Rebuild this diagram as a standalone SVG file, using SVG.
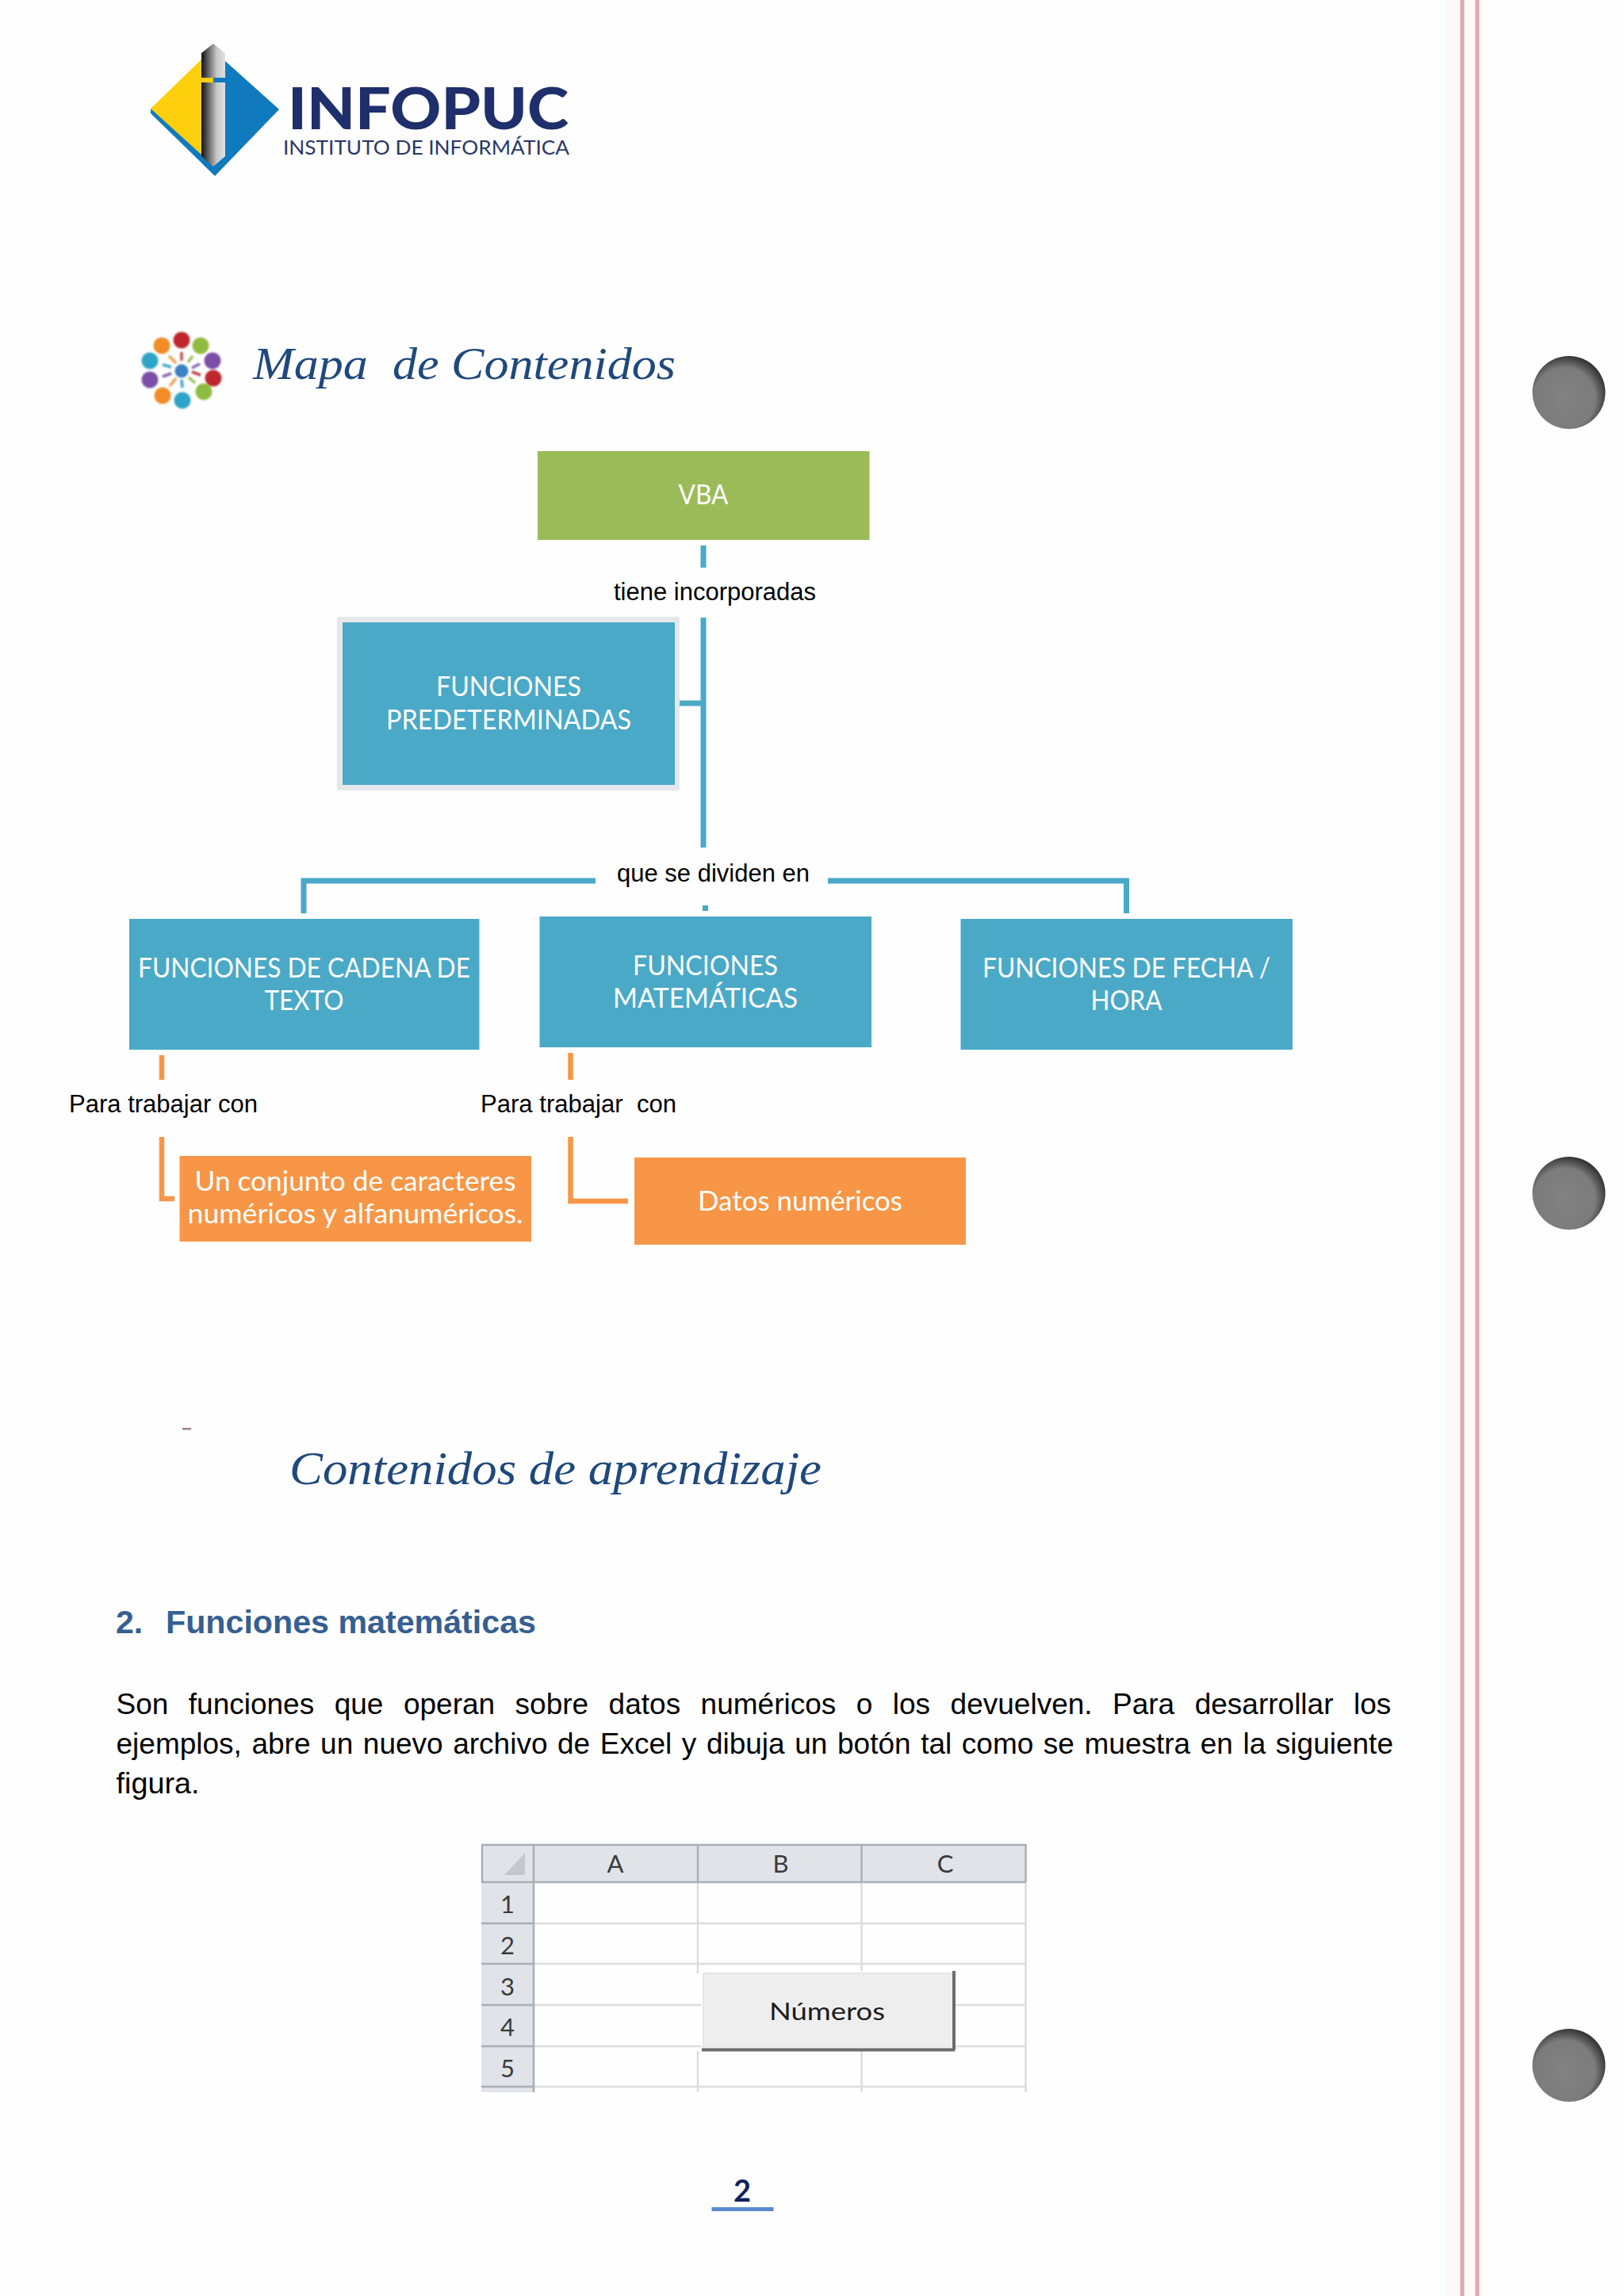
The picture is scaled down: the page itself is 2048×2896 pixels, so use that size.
<svg xmlns="http://www.w3.org/2000/svg" width="2048" height="2896" viewBox="0 0 2048 2896">
<style>
.box{font-family:Lato,"Liberation Sans",sans-serif;font-size:35px;fill:#fff;text-anchor:middle}
.lbl{font-family:"Liberation Sans",Arial,sans-serif;font-size:31px;fill:#000}
.title{font-family:"Liberation Serif",serif;font-style:italic;fill:#1f497d}
.body{font-family:"Liberation Sans",Arial,sans-serif;font-size:37px;fill:#000}
.cell{font-family:Lato,"Liberation Sans",sans-serif;font-size:31px;fill:#3a3a3a;text-anchor:middle}
.blue{fill:#4aa9c7}
.orange{fill:#f79646}
.cb{stroke:#4aa9c7;stroke-width:7;fill:none}
.co{stroke:#f79646;stroke-width:6.500;fill:none}
.grid{stroke:#dcdce0;stroke-width:2.5;fill:none}
.hdr{stroke:#a9aeb4;stroke-width:2.5;fill:none}
.ring{fill:url(#hole)}
.spk{stroke-width:3.6;fill:none}
</style>
<defs>
<linearGradient id="pen" x1="0" x2="1" y1="0" y2="0">
<stop offset="0" stop-color="#111"/><stop offset=".3" stop-color="#666"/><stop offset=".65" stop-color="#c8c8c8"/><stop offset="1" stop-color="#dfe1e3"/>
</linearGradient>
<radialGradient id="hole" cx=".44" cy=".58" r=".62">
<stop offset="0" stop-color="#828282"/><stop offset=".68" stop-color="#7c7c7c"/><stop offset=".84" stop-color="#505050"/><stop offset="1" stop-color="#262626"/>
</radialGradient>
<filter id="soft" x="-10%" y="-10%" width="120%" height="120%"><feGaussianBlur stdDeviation="0.8"/></filter>
</defs>
<rect width="2048" height="2896" fill="#fefefe"/>

<g id="margin">
<rect x="1810" y="0" width="20" height="2896" fill="#f9fefe"/>
<rect x="1824" y="0" width="10" height="2896" fill="#fff8fb"/>
<rect x="1834" y="0" width="36" height="2896" fill="#fffaf6"/>
<rect x="1841.500" y="0" width="5" height="2896" fill="#d9a9b5"/>
<rect x="1860.500" y="0" width="5" height="2896" fill="#e8a3b4"/>
</g>
<g id="holes">
<circle class="ring" cx="1978.500" cy="495" r="46"/>
<circle class="ring" cx="1978.500" cy="1505" r="46"/>
<circle class="ring" cx="1978.500" cy="2605" r="46"/>
</g>

<g id="logo">
<polygon points="190,143 271,222 352,138 284,77 284,190 190,137" fill="#0f7abd"/>
<polygon points="190,137 254,75 254,195" fill="#fdcf0c"/>
<polygon points="254,67 269,55 284,67 284,197 269,210 254,197" fill="url(#pen)"/>
<rect x="254" y="98" width="15" height="6" fill="#fdcf0c"/>
<rect x="269" y="98" width="15" height="6" fill="#0f7abd"/>
<text x="363" y="163" font-family="Lato,'Liberation Sans',sans-serif" font-weight="900" font-size="72" fill="#1e2f6b" textLength="354" lengthAdjust="spacingAndGlyphs">INFOPUC</text>
<text x="357" y="195" font-family="Lato,'Liberation Sans',sans-serif" font-size="25" fill="#2a3768" textLength="361" lengthAdjust="spacingAndGlyphs">INSTITUTO DE INFORMÁTICA</text>
</g>

<g id="icon" filter="url(#soft)">
<circle cx="229" cy="429" r="10.5" fill="#c0272d"/>
<circle cx="253" cy="436" r="10.5" fill="#8fbc3f"/>
<circle cx="268" cy="455" r="10.5" fill="#7a4fa8"/>
<circle cx="269" cy="477" r="10.5" fill="#c0272d"/>
<circle cx="257" cy="494" r="10.5" fill="#8fbc3f"/>
<circle cx="230" cy="505" r="10.5" fill="#2fa5c8"/>
<circle cx="205" cy="499" r="10.5" fill="#f28c28"/>
<circle cx="189" cy="479" r="10.5" fill="#7a4fa8"/>
<circle cx="189" cy="455" r="10.5" fill="#2fa5c8"/>
<circle cx="204" cy="436" r="10.5" fill="#f28c28"/>
<circle cx="229" cy="468" r="8.5" fill="#3b82c4"/>
<line class="spk" x1="229" y1="444" x2="229" y2="455" stroke="#c0575b"/>
<line class="spk" x1="243" y1="449" x2="237" y2="457" stroke="#9cc05a"/>
<line class="spk" x1="252" y1="459" x2="242" y2="464" stroke="#8765b0"/>
<line class="spk" x1="253" y1="473" x2="242" y2="469" stroke="#c0474b"/>
<line class="spk" x1="246" y1="483" x2="238" y2="476" stroke="#9cc05a"/>
<line class="spk" x1="230" y1="489" x2="229" y2="479" stroke="#3fa9cc"/>
<line class="spk" x1="214" y1="487" x2="222" y2="477" stroke="#f2a04e"/>
<line class="spk" x1="205" y1="475" x2="216" y2="471" stroke="#8765b0"/>
<line class="spk" x1="205" y1="460" x2="216" y2="463" stroke="#3fa9cc"/>
<line class="spk" x1="213" y1="449" x2="222" y2="458" stroke="#f2a04e"/>
</g>

<text class="title" x="319" y="478" font-size="58" xml:space="preserve" textLength="533" lengthAdjust="spacingAndGlyphs">Mapa  de Contenidos</text>

<g id="connectors">
<line class="cb" x1="887" y1="688" x2="887" y2="716"/>
<line class="cb" x1="887" y1="779" x2="887" y2="1069"/>
<line class="cb" x1="857" y1="887" x2="887" y2="887"/>
<path class="cb" d="M383 1152V1111H751"/>
<path class="cb" d="M1044 1111H1420.500V1152"/>
<line class="cb" x1="889.500" y1="1142" x2="889.500" y2="1149"/>
<line class="co" x1="204" y1="1331" x2="204" y2="1362"/>
<line class="co" x1="719.500" y1="1328" x2="719.500" y2="1362"/>
<path class="co" d="M204 1434V1512H220"/>
<path class="co" d="M719.500 1434V1515H792"/>
</g>

<g id="node-vba">
<rect x="678" y="569" width="418.500" height="112" fill="#9bbb59"/>
<text class="box" x="887" y="636" textLength="63" lengthAdjust="spacingAndGlyphs">VBA</text>
</g>
<text class="lbl" x="774" y="757" textLength="255" lengthAdjust="spacingAndGlyphs">tiene incorporadas</text>
<g id="node-predeterminadas">
<rect x="425" y="778" width="432" height="219" rx="2" fill="#e6e7eb"/>
<rect class="blue" x="432" y="785" width="419" height="205"/>
<text class="box" x="641.500" y="878" textLength="183" lengthAdjust="spacingAndGlyphs">FUNCIONES</text>
<text class="box" x="641.500" y="920" textLength="309" lengthAdjust="spacingAndGlyphs">PREDETERMINADAS</text>
</g>
<text class="lbl" x="778" y="1112" textLength="243" lengthAdjust="spacingAndGlyphs">que se dividen en</text>
<g id="node-cadena">
<rect class="blue" x="163" y="1159" width="441.500" height="165"/>
<text class="box" x="383.500" y="1232.500" textLength="419" lengthAdjust="spacingAndGlyphs">FUNCIONES DE CADENA DE</text>
<text class="box" x="383.500" y="1273.500" textLength="100" lengthAdjust="spacingAndGlyphs">TEXTO</text>
</g>
<g id="node-matematicas">
<rect class="blue" x="680.500" y="1156" width="418.500" height="165"/>
<text class="box" x="889.500" y="1229.500" textLength="183" lengthAdjust="spacingAndGlyphs">FUNCIONES</text>
<text class="box" x="889.500" y="1270.500" textLength="233" lengthAdjust="spacingAndGlyphs">MATEMÁTICAS</text>
</g>
<g id="node-fecha">
<rect class="blue" x="1211.500" y="1159" width="418.500" height="165"/>
<text class="box" x="1420.500" y="1232.500" textLength="363" lengthAdjust="spacingAndGlyphs">FUNCIONES DE FECHA /</text>
<text class="box" x="1420.500" y="1273.500" textLength="90" lengthAdjust="spacingAndGlyphs">HORA</text>
</g>
<text class="lbl" x="87" y="1403" textLength="238" lengthAdjust="spacingAndGlyphs">Para trabajar con</text>
<text class="lbl" x="606" y="1403" xml:space="preserve" textLength="247" lengthAdjust="spacingAndGlyphs">Para trabajar  con</text>
<g id="node-conjunto">
<rect class="orange" x="226.500" y="1458" width="443.500" height="108"/>
<text class="box" x="448" y="1502" textLength="405" lengthAdjust="spacingAndGlyphs">Un conjunto de caracteres</text>
<text class="box" x="448" y="1543" textLength="423" lengthAdjust="spacingAndGlyphs">numéricos y alfanuméricos.</text>
</g>
<g id="node-datos">
<rect class="orange" x="800" y="1460" width="418" height="110"/>
<text class="box" x="1009" y="1527" textLength="258" lengthAdjust="spacingAndGlyphs">Datos numéricos</text>
</g>

<rect x="230" y="1801" width="11" height="2.500" fill="#a08088"/>
<text class="title" x="365" y="1872" font-size="60" textLength="671" lengthAdjust="spacingAndGlyphs">Contenidos de aprendizaje</text>

<g font-family="'Liberation Sans',Arial,sans-serif" font-weight="700" font-size="41" fill="#365f91">
<text x="146" y="2060">2.</text>
<text x="209" y="2060" textLength="467" lengthAdjust="spacingAndGlyphs">Funciones matemáticas</text>
</g>
<text class="body" x="146.500" y="2162" word-spacing="15.200">Son funciones que operan sobre datos numéricos o los devuelven. Para desarrollar los</text>
<text class="body" x="146.500" y="2212" word-spacing="2.300">ejemplos, abre un nuevo archivo de Excel y dibuja un botón tal como se muestra en la siguiente</text>
<text class="body" x="146.500" y="2262" textLength="105" lengthAdjust="spacingAndGlyphs">figura.</text>

<g id="sheet">
<rect x="607" y="2326" width="687" height="48" fill="#e0e4e9"/>
<rect x="607" y="2374" width="66" height="265" fill="#e0e4e9"/>
<polygon points="636,2365 662,2365 662,2337" fill="#c4c8cc"/>
<path class="grid" d="M880 2374V2489M1086.500 2374V2486M880 2587V2639M1086.500 2587V2639M1293.500 2374V2639M673 2426H1293M673 2477H1293M673 2529H884M1203 2529H1293M673 2581H884M1203 2581H1293M673 2632H1293"/>
<path class="hdr" d="M607 2327H1293M608 2326V2374M673 2326V2639M880 2326V2374M1086.500 2326V2374M1293.500 2326V2374M607 2374H1293M607 2426H673M607 2477H673M607 2529H673M607 2581H673M607 2632H673"/>
<text class="cell" x="776" y="2362">A</text>
<text class="cell" x="984.500" y="2362">B</text>
<text class="cell" x="1192" y="2362">C</text>
<text class="cell" x="640" y="2413">1</text>
<text class="cell" x="640" y="2465">2</text>
<text class="cell" x="640" y="2517">3</text>
<text class="cell" x="640" y="2568">4</text>
<text class="cell" x="640" y="2620">5</text>
<g id="boton">
<rect x="887" y="2489" width="316" height="96" fill="#efeeee" stroke="#e0e0e0" stroke-width="1.500"/>
<path d="M1203 2486V2585.500M885 2585.500H1204" fill="none" stroke="#6b6b70" stroke-width="4"/>
<text class="cell" x="1043" y="2548" textLength="146" lengthAdjust="spacingAndGlyphs" style="fill:#1c1c1c">Números</text>
</g>
</g>

<g id="page">
<text x="936" y="2777" font-family="Lato,'Liberation Sans',sans-serif" font-weight="700" font-size="38" fill="#10215f" text-anchor="middle">2</text>
<rect x="897.500" y="2784" width="78" height="5" fill="#5a8ad0"/>
</g>
</svg>
